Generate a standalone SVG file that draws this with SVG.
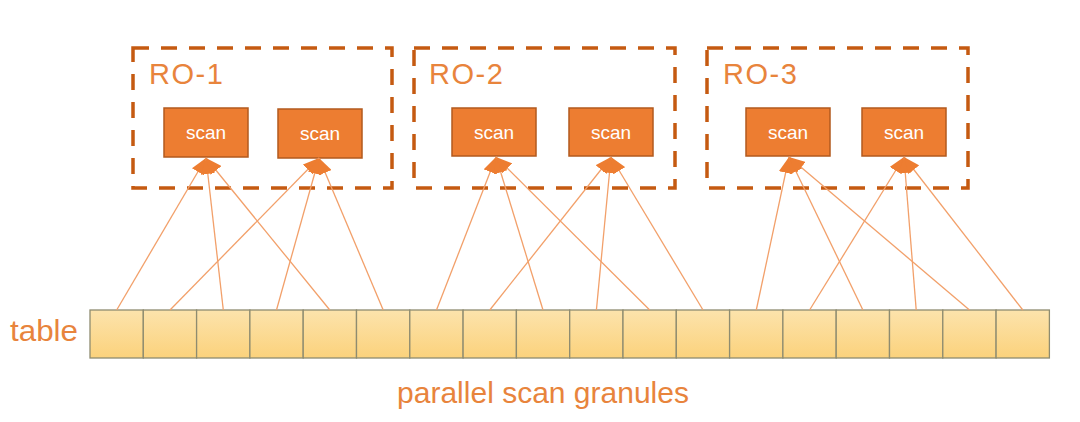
<svg xmlns="http://www.w3.org/2000/svg" width="1080" height="422" viewBox="0 0 1080 422">
<style>
.ro{fill:none;stroke:#C55A11;stroke-width:3.5;stroke-dasharray:16 12}
.rolabel{font-family:"Liberation Sans",Arial,sans-serif;font-size:29px;letter-spacing:1.5px;fill:#E8843C}
.scan{fill:#ED7D31;stroke:#B25A1E;stroke-width:1.5}
.scantext{font-family:"Liberation Sans",Arial,sans-serif;font-size:19px;fill:#FFFFFF;text-anchor:middle}
.cell{fill:url(#cellg);stroke:#8E8C70;stroke-width:1.3}
.lbl{font-family:"Liberation Sans",Arial,sans-serif;font-size:30px;fill:#E8843C}
.conn line{stroke:#F2A06A;stroke-width:1.3;marker-end:url(#ah)}
</style>
<defs>
<linearGradient id="cellg" x1="0" y1="0" x2="0" y2="1">
<stop offset="0" stop-color="#FCE3AC"/>
<stop offset="1" stop-color="#FBD27C"/>
</linearGradient>
<marker id="ah" markerUnits="userSpaceOnUse" markerWidth="17" markerHeight="14" refX="16" refY="7" orient="auto">
<path d="M0,0 L16,7 L0,14 z" fill="#ED7D31"/>
</marker>
</defs>
<rect width="1080" height="422" fill="#FFFFFF"/>

<g id="RO-1">
<rect class="ro" x="133" y="48" width="259" height="140"/>
<text class="rolabel" x="149" y="84">RO-1</text>
</g>
<g id="RO-2">
<rect class="ro" x="414" y="48" width="261" height="140"/>
<text class="rolabel" x="429" y="84">RO-2</text>
</g>
<g id="RO-3">
<rect class="ro" x="707" y="48" width="261" height="140"/>
<text class="rolabel" x="723" y="84">RO-3</text>
</g>

<g id="scan1"><rect class="scan" x="164" y="108" width="84" height="49"/><text class="scantext" x="206" y="139">scan</text></g>
<g id="scan2"><rect class="scan" x="278" y="109" width="84" height="49"/><text class="scantext" x="320" y="140">scan</text></g>
<g id="scan3"><rect class="scan" x="452" y="108" width="84" height="48"/><text class="scantext" x="494" y="139">scan</text></g>
<g id="scan4"><rect class="scan" x="569" y="108" width="84" height="48"/><text class="scantext" x="611" y="139">scan</text></g>
<g id="scan5"><rect class="scan" x="746" y="108" width="84" height="48"/><text class="scantext" x="788" y="139">scan</text></g>
<g id="scan6"><rect class="scan" x="862" y="108" width="84" height="48"/><text class="scantext" x="904" y="139">scan</text></g>

<g id="table">
<rect class="cell" x="90" y="310" width="53.3" height="48"/>
<rect class="cell" x="143.3" y="310" width="53.3" height="48"/>
<rect class="cell" x="196.6" y="310" width="53.3" height="48"/>
<rect class="cell" x="249.9" y="310" width="53.3" height="48"/>
<rect class="cell" x="303.2" y="310" width="53.3" height="48"/>
<rect class="cell" x="356.5" y="310" width="53.3" height="48"/>
<rect class="cell" x="409.8" y="310" width="53.3" height="48"/>
<rect class="cell" x="463.1" y="310" width="53.3" height="48"/>
<rect class="cell" x="516.4" y="310" width="53.3" height="48"/>
<rect class="cell" x="569.7" y="310" width="53.3" height="48"/>
<rect class="cell" x="623" y="310" width="53.3" height="48"/>
<rect class="cell" x="676.3" y="310" width="53.3" height="48"/>
<rect class="cell" x="729.6" y="310" width="53.3" height="48"/>
<rect class="cell" x="782.9" y="310" width="53.3" height="48"/>
<rect class="cell" x="836.2" y="310" width="53.3" height="48"/>
<rect class="cell" x="889.5" y="310" width="53.3" height="48"/>
<rect class="cell" x="942.8" y="310" width="53.3" height="48"/>
<rect class="cell" x="996.1" y="310" width="53.3" height="48"/>
<text class="lbl" x="10" y="341" textLength="68" lengthAdjust="spacingAndGlyphs">table</text>
</g>

<g class="conn">
<line x1="116.7" y1="310" x2="206" y2="158"/>
<line x1="223.3" y1="310" x2="206" y2="158"/>
<line x1="329.8" y1="310" x2="206" y2="158"/>
<line x1="170" y1="310" x2="319" y2="158"/>
<line x1="276.5" y1="310" x2="319" y2="158"/>
<line x1="383.2" y1="310" x2="319" y2="158"/>
<line x1="436.5" y1="310" x2="496" y2="157"/>
<line x1="543" y1="310" x2="496" y2="157"/>
<line x1="649.7" y1="310" x2="496" y2="157"/>
<line x1="489.8" y1="310" x2="611" y2="157"/>
<line x1="596.4" y1="310" x2="611" y2="157"/>
<line x1="703" y1="310" x2="611" y2="157"/>
<line x1="756.3" y1="310" x2="789" y2="157"/>
<line x1="862.9" y1="310" x2="789" y2="157"/>
<line x1="969.5" y1="310" x2="789" y2="157"/>
<line x1="809.6" y1="310" x2="904" y2="157"/>
<line x1="916.2" y1="310" x2="904" y2="157"/>
<line x1="1022.8" y1="310" x2="904" y2="157"/>
</g>

<text class="lbl" x="543" y="403" text-anchor="middle">parallel scan granules</text>
</svg>
